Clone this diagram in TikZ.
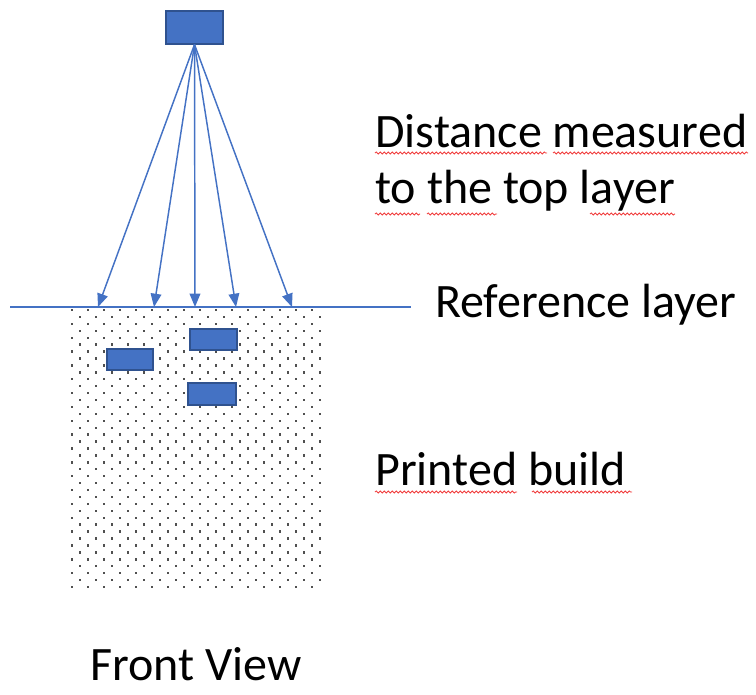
\documentclass[tikz,border=0pt]{standalone}
\usepackage{fontspec}
\setmainfont{Carlito}
\usetikzlibrary{arrows.meta,decorations.pathmorphing}
\definecolor{pp-blue}{HTML}{4472C4}
\definecolor{pp-edge}{HTML}{2F528F}
\definecolor{pp-dot}{HTML}{505050}
\definecolor{spell-red}{HTML}{F03C3C}

\begin{document}
\begin{tikzpicture}[x=0.75pt, y=-0.75pt, >={Triangle[length=10pt,width=8pt]},
    box/.style={draw=pp-edge, fill=pp-blue, line width=0.8pt, inner sep=0pt},
    ray/.style={->, pp-blue, line width=1.1pt},
    lbl/.style={font=\fontsize{36}{43}\selectfont, inner sep=0pt, anchor=base west},
    squiggle/.style={spell-red, line width=0.6pt, decorate,
        decoration={snake, segment length=3pt, amplitude=0.8pt}}]
    \useasboundingbox (0,0) rectangle (756,694);

    % printed build, dotted fill
    \foreach \r in {0,...,40} {
        \pgfmathsetmacro{\yy}{310+6.925*\r}
        \pgfmathsetmacro{\xo}{72+8*mod(\r,2)}
        \foreach \c in {0,...,15}
            \fill[pp-dot] ({\xo+16*\c-1.2},{\yy-1.2}) rectangle ++(2.4,2.4);
    }

    % sensor and embedded parts
    \node[box, minimum width=42.75pt, minimum height=24.75pt] (sensor) at (194.5,27.5) {};
    \node[box, minimum width=34.5pt, minimum height=15.75pt] (d1) at (130,359.5) {};
    \node[box, minimum width=35.25pt, minimum height=15.75pt] (d2) at (213.5,339.5) {};
    \node[box, minimum width=36pt, minimum height=16.5pt] (d3) at (212,394) {};

    % reference layer
    \coordinate (refl) at (10,307);
    \coordinate (refr) at (411,307);
    \draw[pp-blue, line width=1.3pt] (refl) -- (refr);

    \coordinate (t1) at (98,307);
    \coordinate (t2) at (154,307);
    \coordinate (t3) at (195,307);
    \coordinate (t4) at (236,307);
    \coordinate (t5) at (292,307);
    \foreach \t in {t1,t2,t3,t4,t5}
        \draw[ray] (sensor.south) -- (\t);

    % labels
    \node[lbl] (dist) at (375,147) {Distance measured};
    \node[lbl] (distb) at (375,203) {to the top layer};
    \node[lbl] (ref) at (435,317) {Reference layer};
    \node[lbl] (build) at (375,485) {Printed build};
    \node[lbl] (front) at (90,680) {Front View};

    % spell check marks
    \draw[squiggle] (375,153) -- (547,153);
    \draw[squiggle] (553,153) -- (748,153);
    \draw[squiggle] (375,214) -- (420,214);
    \draw[squiggle] (427,214) -- (497,214);
    \draw[squiggle] (590,214) -- (675,214);
    \draw[squiggle] (375,492) -- (517,492);
    \draw[squiggle] (532,492) -- (632,492);
\end{tikzpicture}
\end{document}
